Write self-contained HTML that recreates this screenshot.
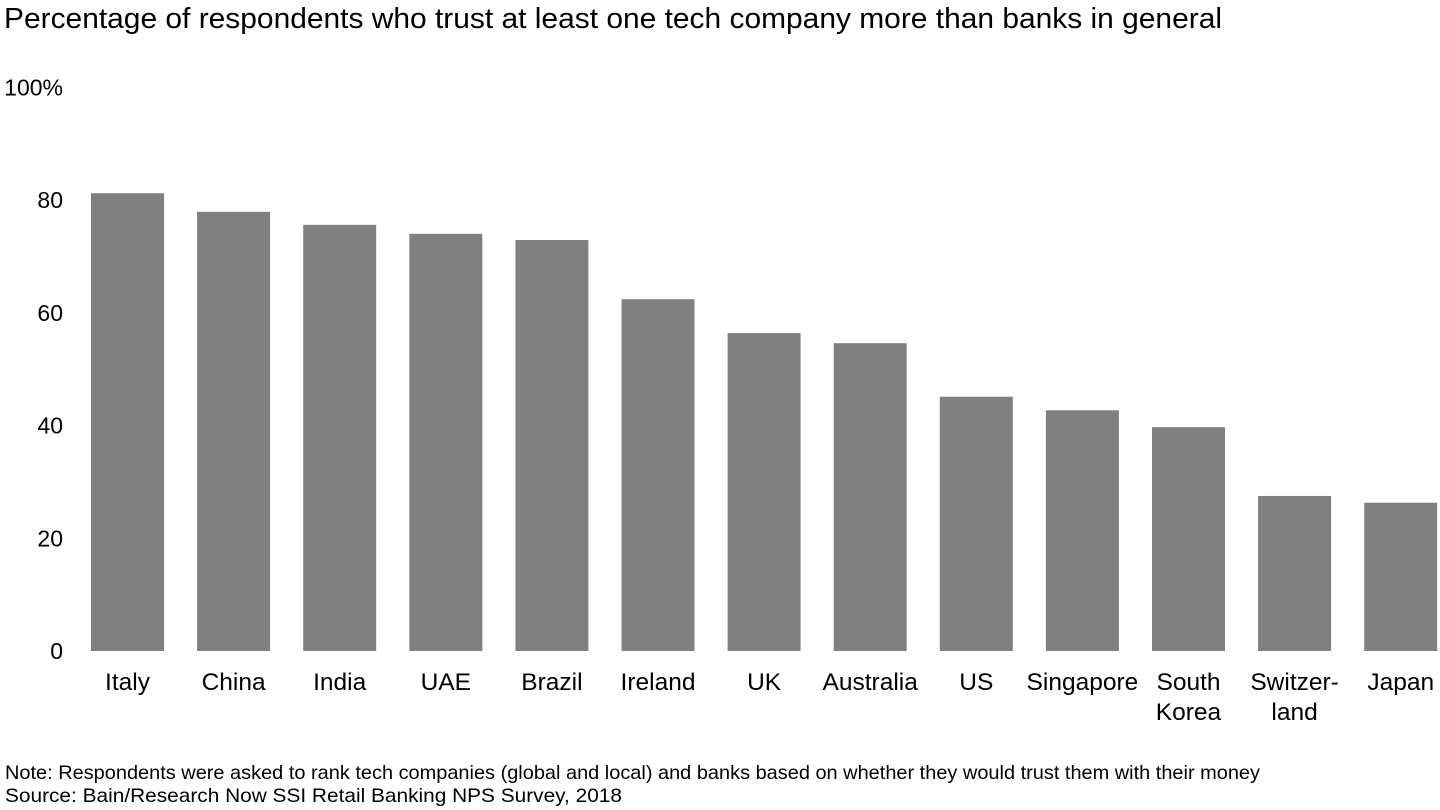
<!DOCTYPE html>
<html><head><meta charset="utf-8"><style>
body{margin:0;background:#fff;width:1440px;height:810px;overflow:hidden;font-family:"Liberation Sans",Arial,sans-serif;color:#000}
svg{position:absolute;left:0;top:0}
</style></head><body>
<svg width="1440" height="810">
<text x="4" y="28" font-size="29" textLength="1218" lengthAdjust="spacingAndGlyphs">Percentage of respondents who trust at least one tech company more than banks in general</text>
<g id="yaxis"></g>
<g id="bars"></g>
<g id="xlabels"></g>
<text x="5" y="779" font-size="19.5" textLength="1255" lengthAdjust="spacingAndGlyphs">Note: Respondents were asked to rank tech companies (global and local) and banks based on whether they would trust them with their money</text>
<text x="5" y="802" font-size="19.5" textLength="617" lengthAdjust="spacingAndGlyphs">Source: Bain/Research Now SSI Retail Banking NPS Survey, 2018</text>
</svg>
<script>
const categories=["Italy","China","India","UAE","Brazil","Ireland","UK","Australia","US","Singapore","South\nKorea","Switzer-\nland","Japan"];
const values=[81.2,77.9,75.6,74.0,72.9,62.4,56.4,54.6,45.1,42.7,39.7,27.5,26.3];
const yTicks=[0,20,40,60,80,100];
const yTickLabels=["0","20","40","60","80","100%"];
const NS="http://www.w3.org/2000/svg";
const y0=651,pxPer=5.6375;
const y=v=>y0-v*pxPer;
const x=i=>127.5+i*106.1;
const bw=73;
const ya=document.getElementById('yaxis');
yTicks.forEach((t,i)=>{
  const tx=document.createElementNS(NS,'text');
  
  
  tx.setAttribute('x',63);
  tx.setAttribute('y',y(t)+8);
  tx.setAttribute('text-anchor','end');
  tx.setAttribute('font-size','23');
  tx.textContent=yTickLabels[i];
  ya.appendChild(tx);
});
const bg=document.getElementById('bars'),xl=document.getElementById('xlabels');
values.forEach((v,i)=>{
  const r=document.createElementNS(NS,'rect');
  
  
  r.setAttribute('x',x(i)-bw/2);r.setAttribute('y',y(v));
  r.setAttribute('width',bw);r.setAttribute('height',y0-y(v));
  r.setAttribute('fill','#808080');
  bg.appendChild(r);
  categories[i].split('\n').forEach((line,j)=>{
    const t=document.createElementNS(NS,'text');
    
    
    t.setAttribute('x',x(i));t.setAttribute('y',690+j*30);
    t.setAttribute('text-anchor','middle');t.setAttribute('font-size','24.5');
    t.textContent=line;xl.appendChild(t);
  });
});
</script>
</body></html>
